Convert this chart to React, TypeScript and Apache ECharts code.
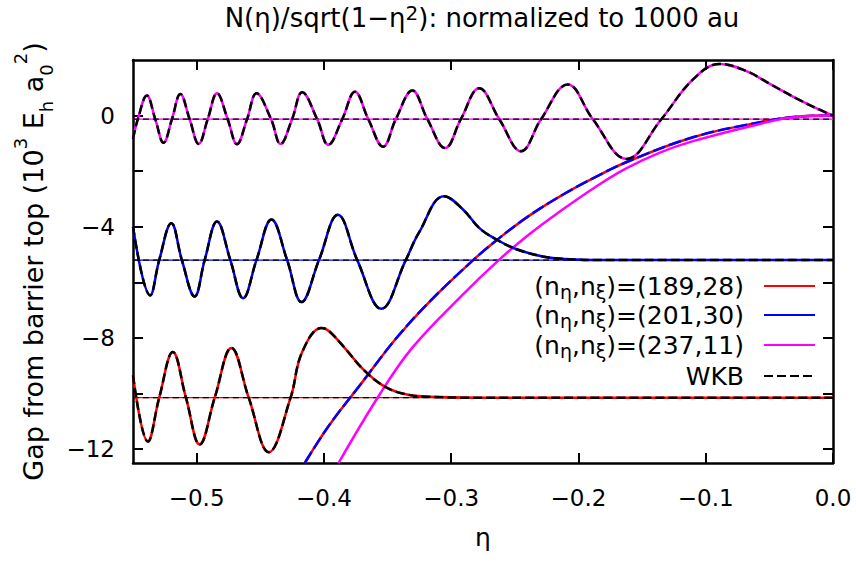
import { useEffect, useRef } from 'react';
import * as echarts from 'echarts';

const FONT = 'DejaVu Sans';

// axis ticks / labels
const xTickValues = [-0.5, -0.4, -0.3, -0.2, -0.1, 0.0];
const yTickValues = [-12, -10, -8, -6, -4, -2, 0];
const yLabelValues = [-12, -8, -4, 0];

// legend entries
const legendRed = '(189,28)';
const legendBlue = '(201,30)';
const legendMagenta = '(237,11)';
const legendWKB = 'WKB';

// energy levels (horizontal lines)
const redLevel = [[-0.55, -10.15], [0, -10.15]];
const blueLevel = [[-0.55, -5.2], [0, -5.2]];
const magentaLevel = [[-0.55, -0.13], [0, -0.13]];

// potential curve shared by (189,28) and (201,30)
const sharedPotential = [
  [-0.415, -12.5], [-0.396, -11.15], [-0.3698, -9.59], [-0.3435, -8.03],
  [-0.3173, -6.71], [-0.2832, -5.22], [-0.2648, -4.5], [-0.2386, -3.6],
  [-0.2124, -2.85], [-0.1887, -2.26], [-0.1625, -1.68], [-0.11, -0.78],
  [-0.0575, -0.24], [-0.031, -0.05], [0, 0],
];

// potential curve of (237,11)
const magentaPotential = [
  [-0.3885, -12.5], [-0.3567, -10.07], [-0.3305, -8.35], [-0.2911, -6.45],
  [-0.2622, -5.18], [-0.2386, -4.27], [-0.2124, -3.38], [-0.186, -2.55],
  [-0.1625, -1.9], [-0.136, -1.33], [-0.11, -0.92], [-0.0575, -0.3],
  [-0.031, -0.06], [0, 0],
];

// wave functions
const redWave = [
  [-0.55, -9.35], [-0.5383, -11.73], [-0.5294, -10.15], [-0.5187, -8.51],
  [-0.5084, -10.15], [-0.4976, -11.83], [-0.4858, -10.15], [-0.4727, -8.36],
  [-0.4591, -10.15], [-0.4433, -12.11], [-0.4262, -10.15], [-0.4171, -8.51],
  [-0.4018, -7.64], [-0.3961, -7.75], [-0.3829, -8.4], [-0.3698, -9.1],
  [-0.3541, -9.7], [-0.3383, -10.0], [-0.3173, -10.12], [-0.278, -10.15],
  [0, -10.15],
];

const blueWave = [
  [-0.55, -4.0], [-0.5365, -6.47], [-0.5294, -5.2], [-0.5199, -3.87],
  [-0.5116, -5.2], [-0.5016, -6.51], [-0.4937, -5.2], [-0.484, -3.81],
  [-0.4735, -5.2], [-0.4635, -6.57], [-0.453, -5.2], [-0.4412, -3.74],
  [-0.4289, -5.2], [-0.4176, -6.71], [-0.4039, -5.2], [-0.389, -3.57],
  [-0.3738, -5.2], [-0.3549, -6.95], [-0.3357, -5.2], [-0.3252, -4.2],
  [-0.3055, -2.9], [-0.2911, -3.36], [-0.2778, -4.05], [-0.2648, -4.45],
  [-0.2491, -4.8], [-0.2281, -5.07], [-0.2071, -5.17], [-0.1835, -5.2],
  [0, -5.2],
];

const magentaWave = [
  [-0.55, -0.84], [-0.5462, -0.13], [-0.5391, 0.72], [-0.5325, -0.13],
  [-0.526, -0.98], [-0.5194, -0.13], [-0.5128, 0.78], [-0.5055, -0.13],
  [-0.4984, -1.02], [-0.4913, -0.13], [-0.484, 0.8], [-0.4756, -0.13],
  [-0.4683, -1.03], [-0.4604, -0.13], [-0.453, 0.8], [-0.4415, -0.13],
  [-0.4341, -1.02], [-0.425, -0.13], [-0.4171, 0.84], [-0.4053, -0.13],
  [-0.3966, -1.05], [-0.3856, -0.13], [-0.3756, 0.86], [-0.3651, -0.13],
  [-0.3535, -1.12], [-0.3435, -0.13], [-0.3305, 0.9], [-0.3187, -0.13],
  [-0.3047, -1.17], [-0.2924, -0.13], [-0.278, 0.98], [-0.2622, -0.13],
  [-0.2451, -1.28], [-0.2294, -0.13], [-0.2084, 1.12], [-0.1887, -0.13],
  [-0.1622, -1.56], [-0.1349, -0.13], [-0.11, 1.3], [-0.089, 1.86],
  [-0.068, 1.6], [-0.05, 1.15], [-0.028, 0.6], [-0.011, 0.22], [0, 0.0],
];

const RED = '#ff0000';
const BLUE = '#0000ff';
const MAGENTA = '#ff00ff';
const BLACK = '#000000';

const fmt = (v: number, d: number) => (v < -1e-9 ? '\u2212' : '') + Math.abs(v).toFixed(d);

const legendLabel: Record<string, string> = {
  [legendRed]: '(n{s|η},n{s|ξ})=(189,28)',
  [legendBlue]: '(n{s|η},n{s|ξ})=(201,30)',
  [legendMagenta]: '(n{s|η},n{s|ξ})=(237,11)',
  [legendWKB]: 'WKB',
};

function line(name: string, data: number[][], color: string, width: number, z: number, dash?: number[], smooth = 0.4) {
  return {
    type: 'line',
    name,
    data,
    symbol: 'none',
    smooth,
    silent: true,
    clip: true,
    z,
    itemStyle: { color },
    lineStyle: { color, width, type: dash ? dash : 'solid', cap: 'butt' },
  };
}

function makeLegend(name: string, top: number) {
  return {
    data: [name],
    right: 40,
    top,
    padding: 0,
    align: 'right',
    itemWidth: 51,
    itemHeight: 2,
    selectedMode: false,
    itemStyle: { opacity: 0, borderWidth: 0 },
    formatter: (n: string) => legendLabel[n] || n,
    textStyle: {
      fontFamily: FONT,
      fontSize: 25,
      lineHeight: 30,
      color: BLACK,
      padding: [0, 15, 0, 0],
      rich: {
        s: { fontFamily: FONT, fontSize: 19, lineHeight: 6, verticalAlign: 'bottom', color: BLACK },
      },
    },
  };
}

const axisLine = { show: true, onZero: false, lineStyle: { color: BLACK, width: 2.5 } };
const tickStyle = { show: true, inside: true, length: 10, lineStyle: { color: BLACK, width: 2 } };

export default function App() {
  const ref = useRef<HTMLDivElement>(null);
  useEffect(() => {
    document.body.style.margin = '0';
    const chart = echarts.init(ref.current as HTMLDivElement, null, { renderer: 'svg' });
    const option: any = {
      animation: false,
      backgroundColor: '#ffffff',
      textStyle: { fontFamily: FONT },
      title: {
        text: 'N(η)/sqrt(1−η{sup|2}): normalized to 1000 au',
        left: 482,
        top: 3,
        padding: 0,
        textAlign: 'center',
        textStyle: {
          fontFamily: FONT,
          fontSize: 26,
          fontWeight: 'normal',
          color: BLACK,
          lineHeight: 30,
          rich: {
            sup: { fontFamily: FONT, fontSize: 20, lineHeight: 26, verticalAlign: 'top', color: BLACK },
          },
        },
      },
      legend: [
        makeLegend(legendRed, 271),
        makeLegend(legendBlue, 300),
        makeLegend(legendMagenta, 330),
        makeLegend(legendWKB, 361),
      ],
      grid: { left: 133, right: 23, top: 60, bottom: 98, containLabel: false, outerBoundsMode: 'none' },
      xAxis: [
        {
          type: 'value',
          position: 'bottom',
          min: -0.55,
          max: 0,
          axisLine,
          axisTick: { ...tickStyle, customValues: xTickValues },
          axisLabel: {
            customValues: xTickValues,
            formatter: (v: number) => fmt(v, 1),
            fontFamily: FONT,
            fontSize: 23,
            color: BLACK,
            margin: 23,
          },
          splitLine: { show: false },
          name: 'η',
          nameLocation: 'middle',
          nameGap: 59,
          nameTextStyle: { fontFamily: FONT, fontSize: 25, lineHeight: 30, color: BLACK },
        },
        {
          type: 'value',
          position: 'top',
          min: -0.55,
          max: 0,
          axisLine,
          axisTick: { ...tickStyle, customValues: xTickValues },
          axisLabel: { show: false },
          splitLine: { show: false },
        },
      ],
      yAxis: [
        {
          type: 'value',
          position: 'left',
          min: -12.5,
          max: 2,
          axisLine,
          axisTick: { ...tickStyle, customValues: yTickValues },
          axisLabel: {
            customValues: yLabelValues,
            formatter: (v: number) => fmt(v, 0),
            fontFamily: FONT,
            fontSize: 23,
            color: BLACK,
            margin: 18,
          },
          splitLine: { show: false },
          name: 'Gap from barrier top (10{sup|3} E{sub|h} a{sub|0}{sup|2})',
          nameLocation: 'middle',
          nameGap: 77,
          nameTextStyle: {
            fontFamily: FONT,
            fontSize: 27,
            lineHeight: 44,
            color: BLACK,
            rich: {
              sup: { fontFamily: FONT, fontSize: 18, lineHeight: 12, verticalAlign: 'top', color: BLACK },
              sub: { fontFamily: FONT, fontSize: 18, lineHeight: 24, verticalAlign: 'bottom', color: BLACK },
            },
          },
        },
        {
          type: 'value',
          position: 'right',
          min: -12.5,
          max: 2,
          axisLine,
          axisTick: { ...tickStyle, customValues: yTickValues },
          axisLabel: { show: false },
          splitLine: { show: false },
        },
      ],
      series: [
        line('redLevel', redLevel, RED, 1.3, 1),
        line('blueLevel', blueLevel, BLUE, 1.3, 1),
        line('magentaLevel', magentaLevel, MAGENTA, 1.3, 1),
        line('redLevelWKB', redLevel, BLACK, 1.2, 2, [6, 4]),
        line('blueLevelWKB', blueLevel, BLACK, 1.2, 2, [6, 4]),
        line('magentaLevelWKB', magentaLevel, BLACK, 1.2, 2, [6, 4]),
        line('redPotential', sharedPotential, RED, 2.5, 3),
        line('bluePotential', sharedPotential, BLUE, 2.5, 4, [13, 4]),
        line('magentaPotential', magentaPotential, MAGENTA, 2.5, 4),
        line(legendRed, redWave, RED, 2.5, 5),
        line(legendBlue, blueWave, BLUE, 2.5, 5),
        line(legendMagenta, magentaWave, MAGENTA, 2.5, 5),
        line(legendWKB, redWave, BLACK, 2.5, 6, [9, 4]),
        line('blueWKB', blueWave, BLACK, 2.5, 6, [9, 4]),
        line('magentaWKB', magentaWave, BLACK, 2.5, 6, [9, 4]),
      ],
    };
    chart.setOption(option);
    return () => chart.dispose();
  }, []);
  return <div ref={ref} style={{ width: 856, height: 561 }} />;
}
